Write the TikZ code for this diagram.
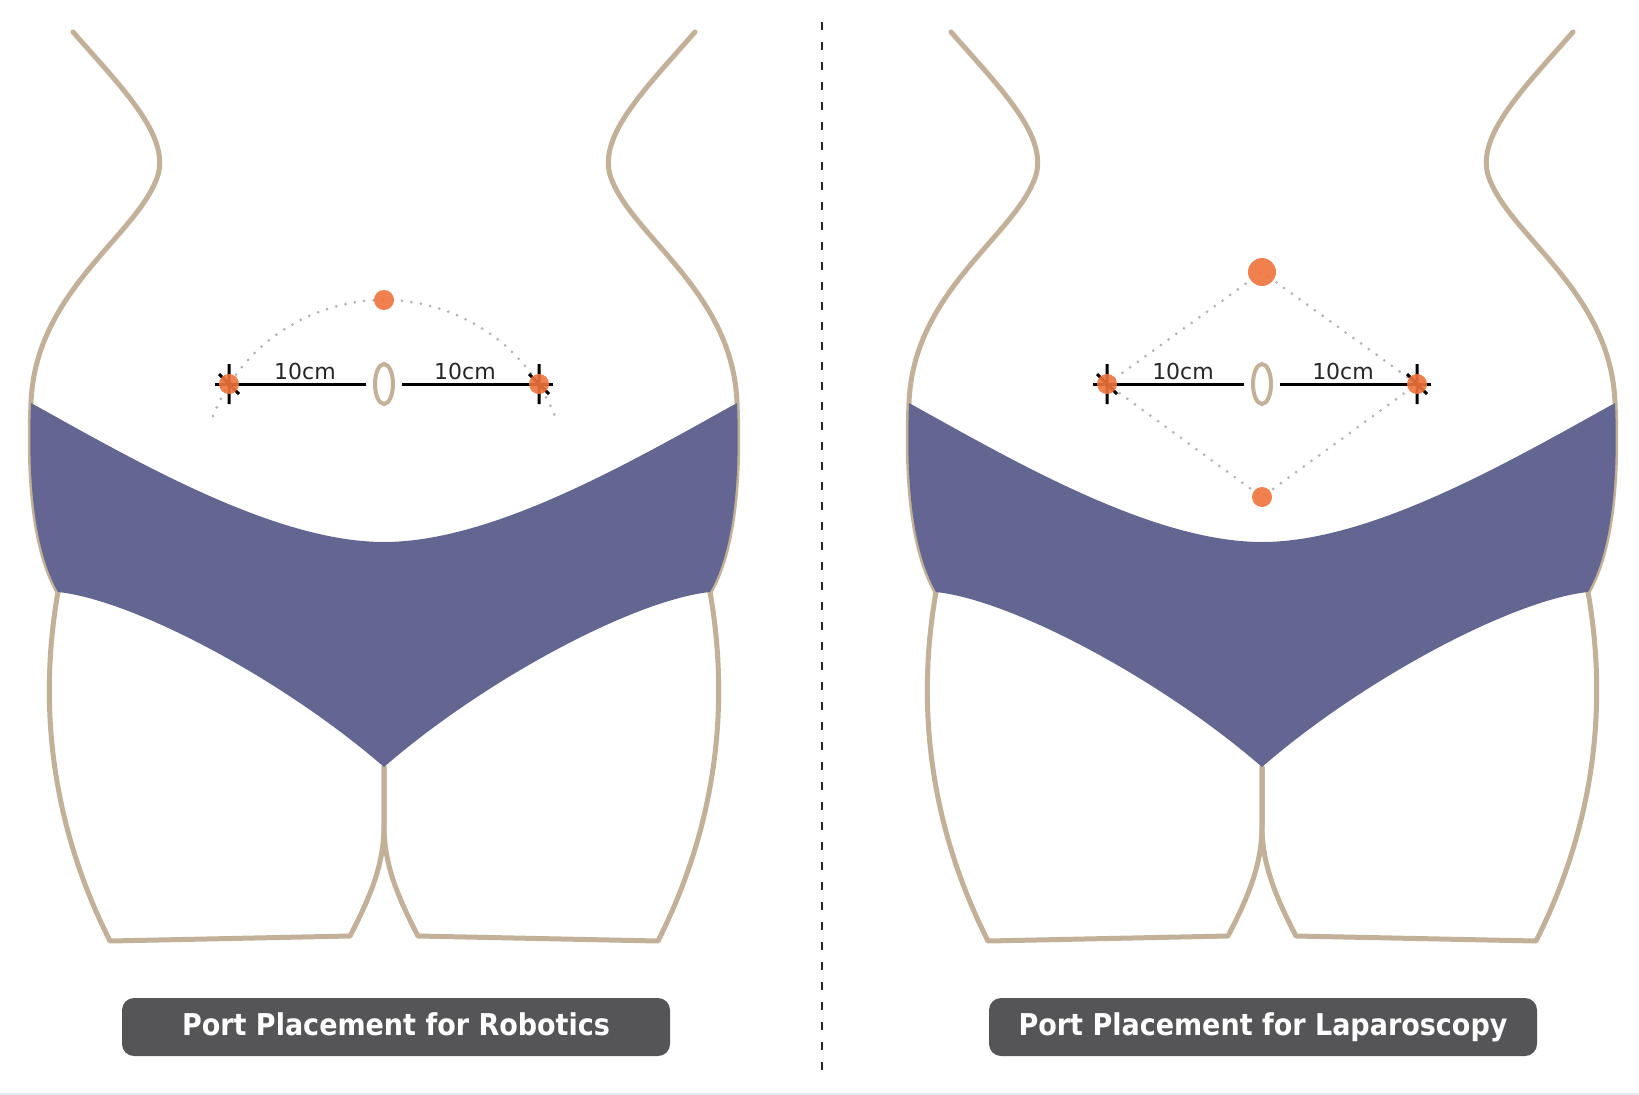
\documentclass[tikz,border=0pt]{standalone}
\usepackage{fontspec}
\setmainfont{DejaVu Sans}
\newfontfamily\tagfont{DejaVu Sans}[FakeStretch=0.9]
\usetikzlibrary{shapes.geometric}

\definecolor{skin}{RGB}{194,176,152}
\definecolor{briefs}{RGB}{99,102,145}
\definecolor{portc}{RGB}{239,115,58}
\definecolor{tagc}{RGB}{85,85,87}
\definecolor{dotc}{RGB}{178,178,178}

% outline of the body and the briefs, centred on x=0
\newcommand{\bodyshape}{%
  \foreach \s in {1,-1} {
    \begin{scope}[xscale=\s]
      % waist and hip
      \draw[outline] (-311,32) .. controls (-260,90) and (-215,135) .. (-226,175)
        .. controls (-245,235) and (-349,290) .. (-353,403)
        .. controls (-356,480) and (-350,550) .. (-326,592);
      % leg
      \draw[outline] (-326,592) .. controls (-345,700) and (-335,820) .. (-274,941)
        -- (-34,936) .. controls (-10,890) and (0,860) .. (0,825) -- (0,767);
    \end{scope}
  }
  \fill[briefs] (-353,403) .. controls (-250,460) and (-110,542) .. (0,542)
    .. controls (110,542) and (250,460) .. (353,403)
    .. controls (356,480) and (350,550) .. (326,592)
    .. controls (250,600) and (100,680) .. (0,767)
    .. controls (-100,680) and (-250,600) .. (-326,592)
    .. controls (-350,550) and (-356,480) .. (-353,403) -- cycle;
}

\begin{document}
\begin{tikzpicture}[x=1pt, y=-1pt,
    outline/.style={draw=skin, line width=5pt, line join=round, line cap=round},
    briefs/.style={fill=briefs},
    navel/.style={ellipse, draw=skin, line width=4pt, minimum width=18pt, minimum height=40pt, inner sep=0pt},
    portdot/.style={circle, fill=portc, fill opacity=0.9, minimum size=20pt, inner sep=0pt},
    tick/.style={draw=black, line width=3pt},
    dotline/.style={draw=dotc, line width=3pt, line cap=round, dash pattern=on 0pt off 9.5pt},
    dist/.style={font=\fontsize{22}{24}\selectfont, text=black!85, inner sep=0pt, anchor=base},
    tag/.style={fill=tagc, text=white, rounded corners=12pt, minimum width=548pt, minimum height=58pt,
      text height=22pt, text depth=6pt, inner sep=0pt, font=\tagfont\bfseries\fontsize{30}{36}\selectfont}]

  \useasboundingbox[fill=white] (0,0) rectangle (1639,1095);

  % robotics
  \begin{scope}[shift={(384,0)}]
    \bodyshape
    \node[navel] (nv1) at (0,384) {};
    \coordinate (a1) at (-155,384);
    \coordinate (b1) at (155,384);
    \coordinate (c1) at (0,300);
    \coordinate (s1) at (-171,416);
    \draw[dotline] (s1) arc[start angle=201.7, end angle=338.3, radius=184];
    \foreach \p in {a1,b1}
      \draw[tick] ([yshift=20pt]\p) -- ([yshift=-20pt]\p)
                  ([shift={(-10pt,10pt)}]\p) -- ([shift={(10pt,-10pt)}]\p);
    \draw[tick, shorten >=7pt] ([xshift=-14pt]a1) -- (nv1);
    \draw[tick, shorten >=7pt] ([xshift=14pt]b1) -- (nv1);
    \node[dist] (l1) at (-79,379) {10cm};
    \node[dist] (r1) at (81,379) {10cm};
    \node[portdot] (da1) at (a1) {};
    \node[portdot] (db1) at (b1) {};
    \node[portdot] (dc1) at (c1) {};
  \end{scope}

  % laparoscopy
  \begin{scope}[shift={(1262,0)}]
    \bodyshape
    \node[navel] (nv2) at (0,384) {};
    \coordinate (a2) at (-155,384);
    \coordinate (b2) at (155,384);
    \coordinate (c2) at (0,272);
    \coordinate (d2) at (0,497);
    \draw[dotline] (a2) -- (c2) -- (b2) -- (d2) -- cycle;
    \foreach \p in {a2,b2}
      \draw[tick] ([yshift=20pt]\p) -- ([yshift=-20pt]\p)
                  ([shift={(-10pt,10pt)}]\p) -- ([shift={(10pt,-10pt)}]\p);
    \draw[tick, shorten >=7pt] ([xshift=-14pt]a2) -- (nv2);
    \draw[tick, shorten >=7pt] ([xshift=14pt]b2) -- (nv2);
    \node[dist] (l2) at (-79,379) {10cm};
    \node[dist] (r2) at (81,379) {10cm};
    \node[portdot] (da2) at (a2) {};
    \node[portdot] (db2) at (b2) {};
    \node[portdot, minimum size=28pt] (dc2) at (c2) {};
    \node[portdot] (dd2) at (d2) {};
  \end{scope}

  % divider
  \coordinate (top) at (822,22);
  \coordinate (bot) at (822,1077);
  \draw[line width=2.5pt, black!85, dash pattern=on 8pt off 12pt] (top) -- (bot);

  \node[tag] (t1) at (396,1027) {Port Placement for Robotics};
  \node[tag] (t2) at (1263,1027) {Port Placement for Laparoscopy};

  \draw[line width=2pt, color={rgb,255:red,226;green,232;blue,240}] (0,1094) -- (1639,1094);
\end{tikzpicture}
\end{document}
